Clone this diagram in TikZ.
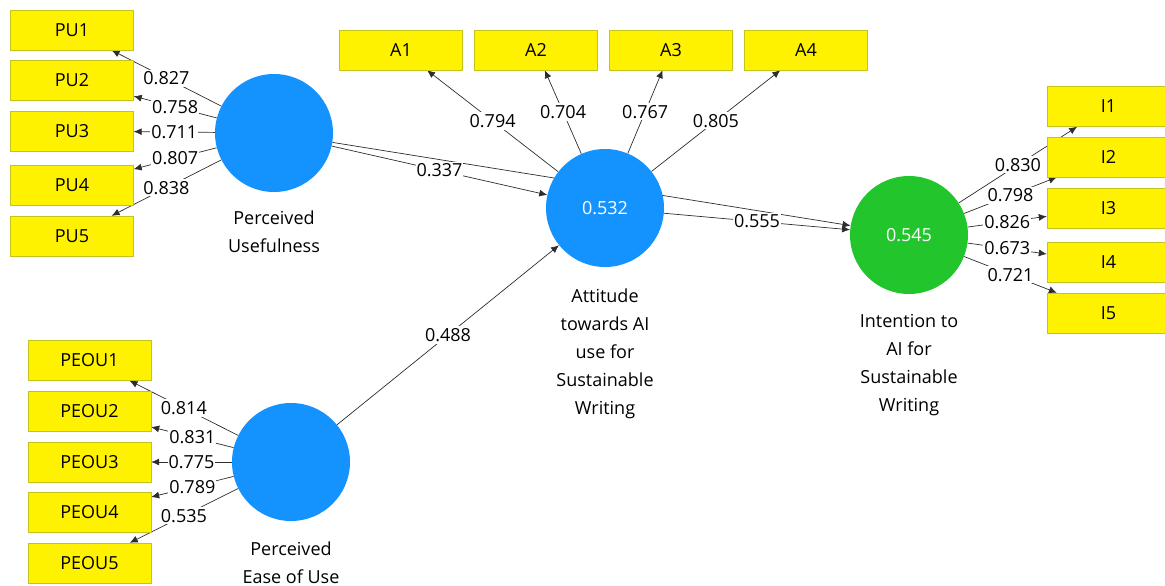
\documentclass[tikz,border=0pt]{standalone}
\usepackage{fontspec}
\setmainfont{Open Sans}
\usetikzlibrary{arrows.meta, positioning, backgrounds}
\definecolor{latblue}{RGB}{20,147,255}
\definecolor{latgreen}{RGB}{34,198,44}
\definecolor{indline}{RGB}{196,196,30}
\definecolor{pathgray}{RGB}{45,45,45}

\tikzset{
  ind/.style={rectangle, draw=indline, fill=yellow, minimum width=123pt, minimum height=40pt, inner sep=0pt},
  lat/.style={circle, fill=latblue, minimum size=118pt, inner sep=0pt, text=white},
  load/.style={fill=white, inner xsep=1pt, inner ysep=2pt},
  conn/.style={-{Latex[length=8pt,width=7pt]}, draw=pathgray, line width=0.7pt},
  lvcap/.style={align=center}
}

\begin{document}
\begin{tikzpicture}[x=1pt, y=-1pt, font=\fontsize{18}{28}\selectfont]
\useasboundingbox (0,0) rectangle (1165,586);
\clip (0,0) rectangle (1165,586);

% latent variables
\node [lat] (pu) at (274,133) {};
\node [lat] (att) at (605,208) {0.532};
\node [lat, fill=latgreen] (int) at (909,235) {0.545};
\node [lat] (peou) at (291,462) {};

\node [lvcap, below=15pt of pu] (pucap) {Perceived\\Usefulness};
\node [lvcap, below=18pt of att] (attcap) {Attitude\\towards AI\\use for\\Sustainable\\Writing};
\node [lvcap, below=17pt of int] (intcap) {Intention to\\AI for\\Sustainable\\Writing};
\node [lvcap, below=17pt of peou] (peoucap) {Perceived\\Ease of Use};

% indicators
\foreach \i/\y in {1/30,2/80,3/131,4/185,5/236}
  \node [ind] (pu\i) at (72,\y) {PU\i};
\foreach \i/\x in {1/401,2/536,3/671,4/806}
  \node [ind] (a\i) at (\x,50) {A\i};
\foreach \i/\y in {1/106.5,2/157,3/208,4/262.5,5/313}
  \node [ind] (i\i) at (1108.5,\y) {I\i};
\foreach \i/\y in {1/360.5,2/411.5,3/462,4/512.5,5/563}
  \node [ind] (peou\i) at (89.5,\y) {PEOU\i};

% paths and loadings
\begin{scope}[on background layer]
\draw [conn] (pu) -- (int);
\draw [conn] (pu) -- node[load]{0.337} (att);
\draw [conn] (att) -- node[load]{0.555} (int);
\draw [conn] (peou) -- node[load]{0.488} (att);
\foreach \i/\v in {1/0.827,2/0.758,3/0.711,4/0.807,5/0.838}
  \draw [conn] (pu) -- node[load]{\v} (pu\i);
\foreach \i/\v in {1/0.794,2/0.704,3/0.767,4/0.805}
  \draw [conn] (att) -- node[load]{\v} (a\i);
\foreach \i/\v in {1/0.830,2/0.798,3/0.826,4/0.673,5/0.721}
  \draw [conn] (int) -- node[load]{\v} (i\i);
\foreach \i/\v in {1/0.814,2/0.831,3/0.775,4/0.789,5/0.535}
  \draw [conn] (peou) -- node[load]{\v} (peou\i);
\end{scope}
\end{tikzpicture}
\end{document}
